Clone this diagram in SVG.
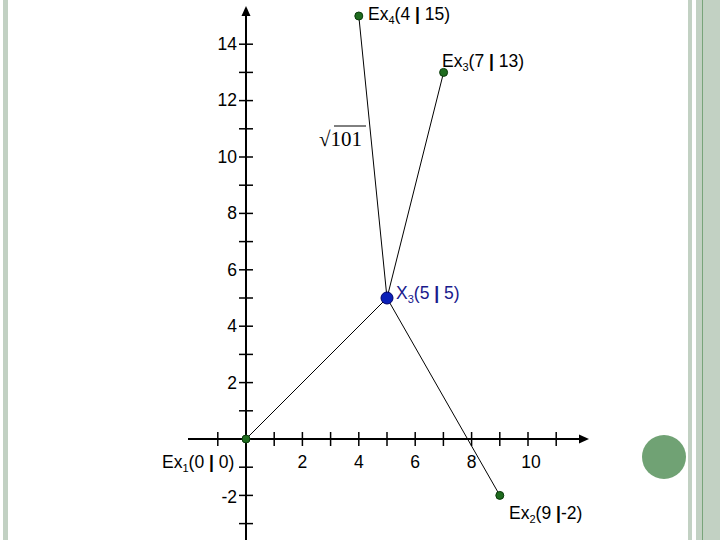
<svg xmlns="http://www.w3.org/2000/svg" width="720" height="540" viewBox="0 0 720 540">
<style>
.ax{stroke:#000;stroke-width:2;fill:none}
.tk{stroke:#000;stroke-width:1.5}
.lab{font-family:"Liberation Sans",Arial,sans-serif;font-size:17.5px;fill:#000}
.b{font-weight:bold}
.ln{stroke:#000;stroke-width:1;fill:none}
.pt{fill:#1e6b1e;stroke:#0a3a0a;stroke-width:1}
</style>
<rect width="720" height="540" fill="#fff"/>
<rect x="3" y="0" width="5" height="540" fill="#c2d1c3"/>
<rect x="688" y="0" width="4" height="540" fill="#c2d1c3"/>
<rect x="696" y="0" width="24" height="540" fill="#c2d1c3"/>
<rect x="702" y="0" width="1" height="540" fill="#78a47a"/>
<circle cx="664" cy="457" r="22" fill="#70a274"/>
<g id="axes">
<line class="ax" x1="246" y1="540" x2="246" y2="14"/>
<polygon points="246,6 241.5,16 250.5,16" fill="#000"/>
<line class="ax" x1="188" y1="439" x2="580" y2="439"/>
<polygon points="589,439 579,434.5 579,443.5" fill="#000"/>
<g class="tk">
<line x1="239" y1="523.6" x2="253" y2="523.6"/><line x1="239" y1="495.4" x2="253" y2="495.4"/><line x1="239" y1="467.2" x2="253" y2="467.2"/>
<line x1="239" y1="410.8" x2="253" y2="410.8"/><line x1="239" y1="382.6" x2="253" y2="382.6"/><line x1="239" y1="354.4" x2="253" y2="354.4"/>
<line x1="239" y1="326.2" x2="253" y2="326.2"/><line x1="239" y1="298" x2="253" y2="298"/><line x1="239" y1="269.8" x2="253" y2="269.8"/>
<line x1="239" y1="241.6" x2="253" y2="241.6"/><line x1="239" y1="213.4" x2="253" y2="213.4"/><line x1="239" y1="185.2" x2="253" y2="185.2"/>
<line x1="239" y1="157" x2="253" y2="157"/><line x1="239" y1="128.8" x2="253" y2="128.8"/><line x1="239" y1="100.6" x2="253" y2="100.6"/>
<line x1="239" y1="72.4" x2="253" y2="72.4"/><line x1="239" y1="44.2" x2="253" y2="44.2"/>
<line x1="217.8" y1="432" x2="217.8" y2="446"/><line x1="274.2" y1="432" x2="274.2" y2="446"/><line x1="302.4" y1="432" x2="302.4" y2="446"/>
<line x1="330.6" y1="432" x2="330.6" y2="446"/><line x1="358.8" y1="432" x2="358.8" y2="446"/><line x1="387" y1="432" x2="387" y2="446"/>
<line x1="415.2" y1="432" x2="415.2" y2="446"/><line x1="443.4" y1="432" x2="443.4" y2="446"/><line x1="471.6" y1="432" x2="471.6" y2="446"/>
<line x1="499.8" y1="432" x2="499.8" y2="446"/><line x1="528" y1="432" x2="528" y2="446"/><line x1="556.2" y1="432" x2="556.2" y2="446"/>
</g>
<g class="lab" text-anchor="end">
<text x="237" y="50">14</text><text x="237" y="106">12</text><text x="237" y="163">10</text>
<text x="237" y="219">8</text><text x="237" y="276">6</text><text x="237" y="332">4</text>
<text x="237" y="389">2</text><text x="237" y="503">-2</text>
</g>
<g class="lab" text-anchor="middle">
<text x="302.4" y="468">2</text><text x="358.8" y="468">4</text><text x="415.2" y="468">6</text>
<text x="471.6" y="468">8</text><text x="531" y="468">10</text>
</g>
</g>
<g id="connectors">
<line class="ln" x1="246" y1="439" x2="387" y2="298"/>
<line class="ln" x1="387" y1="298" x2="499.8" y2="495.4"/>
<line class="ln" x1="387" y1="298" x2="358.8" y2="16"/>
<line class="ln" x1="387" y1="298" x2="443.6" y2="72.4"/>
</g>
<g id="sqrt101">
<text x="319" y="146" font-family="'Liberation Serif','Times New Roman',serif" font-size="21" fill="#000">√<tspan>101</tspan></text>
<line x1="334" y1="126" x2="366" y2="126" stroke="#000" stroke-width="1"/>
</g>
<g id="Ex1">
<circle class="pt" cx="246" cy="439" r="4"/>
<text class="lab" x="162" y="468">Ex<tspan font-size="11" dy="4">1</tspan><tspan dy="-4">(0 </tspan><tspan class="b">|</tspan> 0)</text>
</g>
<g id="Ex2">
<circle class="pt" cx="499.8" cy="495.4" r="4"/>
<text class="lab" x="509" y="519">Ex<tspan font-size="11" dy="4">2</tspan><tspan dy="-4">(9 </tspan><tspan class="b">|</tspan>-2)</text>
</g>
<g id="Ex3">
<circle class="pt" cx="443.6" cy="72.4" r="4"/>
<text class="lab" x="442" y="67">Ex<tspan font-size="11" dy="4">3</tspan><tspan dy="-4">(7 </tspan><tspan class="b">|</tspan> 13)</text>
</g>
<g id="Ex4">
<circle class="pt" cx="358.8" cy="16" r="4"/>
<text class="lab" x="368" y="20">Ex<tspan font-size="11" dy="4">4</tspan><tspan dy="-4">(4 </tspan><tspan class="b">|</tspan> 15)</text>
</g>
<g id="X3">
<circle cx="387" cy="298" r="6" fill="#0a1fb8" stroke="#00006a" stroke-width="1"/>
<text class="lab" x="396" y="299" style="fill:#1a1a8c">X<tspan font-size="11" dy="4">3</tspan><tspan dy="-4">(5 </tspan><tspan class="b">|</tspan> 5)</text>
</g>
</svg>
